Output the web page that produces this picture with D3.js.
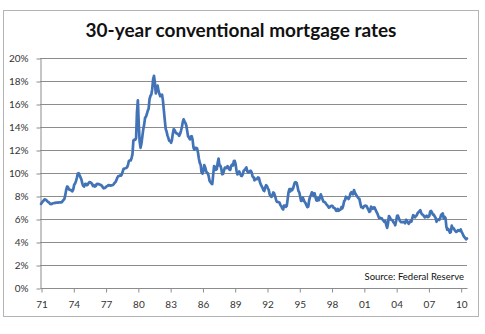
<!DOCTYPE html>
<html>
<head>
<meta charset="utf-8">
<script src="https://cdn.jsdelivr.net/npm/d3@7"></script>
<style>
  html, body { margin: 0; padding: 0; background: #fff; }
  svg { display: block; }
  text { font-family: Lato, "Open Sans", sans-serif; }
</style>
</head>
<body>
<svg id="chart" width="485" height="334"></svg>
<script>
// Monthly average 30-year fixed mortgage rate (%), April 1971 – November 2010
const firstMonth = [1971, 3];   // [year, zero-based month]
const rates1970s = [
  7.31, 7.43, 7.53, 7.60, 7.70, 7.69, 7.63, 7.55, 7.48,
  7.44, 7.33, 7.29, 7.31, 7.37, 7.37, 7.40, 7.40, 7.42, 7.42, 7.43, 7.44,
  7.44, 7.44, 7.46, 7.54, 7.65, 7.73, 8.05, 8.50, 8.82, 8.78, 8.58, 8.54,
  8.54, 8.46, 8.41, 8.58, 8.97, 9.09, 9.28, 9.59, 9.96, 9.98, 9.79, 9.62,
  9.43, 9.10, 8.89, 8.82, 9.04, 9.06, 8.94, 8.98, 9.12, 9.21, 9.19, 9.14,
  9.03, 8.86, 8.94, 8.82, 8.86, 9.03, 9.05, 9.04, 9.01, 8.97, 8.95, 8.88,
  8.72, 8.67, 8.69, 8.75, 8.83, 8.86, 8.94, 8.94, 8.90, 8.92, 8.92, 8.96,
  9.02, 9.15, 9.20, 9.36, 9.57, 9.71, 9.74, 9.78, 9.76, 9.86, 10.11, 10.35,
  10.39, 10.41, 10.43, 10.50, 10.69, 11.04, 11.09, 11.09, 11.30, 11.64, 12.83, 12.90
];
const rates1980s = [
  12.88, 13.04, 15.28, 16.32, 14.26, 12.71, 12.19, 12.56, 13.20, 13.79, 14.21, 14.79,
  14.90, 15.13, 15.40, 15.58, 16.40, 16.70, 16.83, 17.29, 18.16, 18.45, 17.83, 16.92,
  17.40, 17.60, 17.16, 16.89, 16.68, 16.70, 16.82, 16.27, 15.43, 14.61, 13.83, 13.62,
  13.25, 13.04, 12.80, 12.78, 12.63, 12.87, 13.42, 13.81, 13.73, 13.54, 13.44, 13.42,
  13.37, 13.23, 13.39, 13.65, 13.94, 14.42, 14.67, 14.47, 14.35, 14.13, 13.64, 13.18,
  13.08, 12.92, 13.17, 13.20, 12.91, 12.22, 12.03, 12.19, 12.19, 12.14, 11.78, 11.26,
  10.88, 10.71, 10.08, 9.94, 10.14, 10.68, 10.51, 10.20, 10.01, 9.98, 9.70, 9.31,
  9.20, 9.08, 9.04, 9.83, 10.60, 10.54, 10.28, 10.33, 10.89, 11.26, 10.65, 10.64,
  10.38, 9.89, 9.93, 10.20, 10.46, 10.46, 10.43, 10.60, 10.48, 10.30, 10.27, 10.61,
  10.73, 10.65, 11.03, 11.05, 10.77, 10.20, 9.88, 9.99, 10.13, 9.95, 9.77, 9.74
];
const rates1990s = [
  9.90, 10.20, 10.27, 10.37, 10.48, 10.16, 10.04, 10.10, 10.18, 10.18, 10.01, 9.67,
  9.64, 9.37, 9.50, 9.49, 9.47, 9.62, 9.58, 9.24, 9.01, 8.86, 8.71, 8.50,
  8.43, 8.76, 8.94, 8.85, 8.67, 8.51, 8.13, 7.98, 7.92, 8.09, 8.31, 8.22,
  7.99, 7.68, 7.50, 7.47, 7.47, 7.42, 7.21, 7.11, 6.92, 6.83, 7.16, 7.17,
  7.06, 7.15, 7.68, 8.32, 8.60, 8.40, 8.61, 8.51, 8.64, 8.93, 9.17, 9.20,
  9.15, 8.83, 8.46, 8.32, 7.96, 7.57, 7.61, 7.86, 7.64, 7.48, 7.38, 7.20,
  7.03, 7.08, 7.62, 7.93, 8.07, 8.32, 8.25, 8.00, 8.23, 7.92, 7.62, 7.60,
  7.82, 7.65, 7.90, 8.14, 7.94, 7.69, 7.50, 7.48, 7.43, 7.29, 7.21, 7.10,
  6.99, 7.04, 7.13, 7.14, 7.14, 7.00, 6.95, 6.92, 6.72, 6.71, 6.87, 6.72,
  6.79, 6.81, 7.04, 6.92, 7.15, 7.55, 7.63, 7.94, 7.82, 7.85, 7.74, 7.91
];
const rates2000s = [
  8.21, 8.33, 8.24, 8.15, 8.52, 8.29, 8.15, 8.03, 7.91, 7.80, 7.75, 7.38,
  7.03, 7.05, 6.95, 7.08, 7.15, 7.16, 7.13, 6.95, 6.82, 6.62, 6.66, 7.07,
  7.00, 6.89, 7.01, 6.99, 6.81, 6.65, 6.49, 6.29, 6.09, 6.11, 6.07, 6.05,
  5.92, 5.84, 5.75, 5.81, 5.48, 5.23, 5.63, 6.26, 6.15, 5.95, 5.93, 5.88,
  5.71, 5.64, 5.45, 5.83, 6.27, 6.29, 6.06, 5.87, 5.75, 5.72, 5.73, 5.75,
  5.71, 5.63, 5.93, 5.86, 5.72, 5.58, 5.70, 5.82, 5.77, 6.07, 6.33, 6.27,
  6.15, 6.25, 6.32, 6.51, 6.60, 6.68, 6.76, 6.52, 6.40, 6.36, 6.24, 6.14,
  6.22, 6.29, 6.16, 6.18, 6.26, 6.66, 6.70, 6.57, 6.38, 6.38, 6.21, 6.10,
  5.76, 5.92, 5.97, 5.92, 6.04, 6.32, 6.43, 6.48, 6.04, 6.20, 6.09, 5.33,
  5.06, 5.13, 5.00, 4.81, 4.86, 5.42, 5.22, 5.19, 5.06, 4.95, 4.88, 4.93,
  5.03, 4.99, 4.97, 5.10, 4.89, 4.74, 4.56, 4.43, 4.35, 4.23, 4.30
];
const tickYears = [1971, 1974, 1977, 1980, 1983, 1986, 1989, 1992, 1995, 1998, 2001, 2004, 2007, 2010];
const yTickValues = [0, 2, 4, 6, 8, 10, 12, 14, 16, 18, 20];
const titleText = "30-year conventional mortgage rates";
const sourceText = "Source: Federal Reserve";

const rates = [].concat(rates1970s, rates1980s, rates1990s, rates2000s);
const series = rates.map((v, i) => ({
  date: new Date(firstMonth[0], firstMonth[1] + i, 1),
  value: v
}));

const svg = d3.select("#chart");
const plot = { left: 40, right: 467, top: 58, bottom: 288 };

// Chart frame
svg.append("rect")
  .attr("x", 3.5).attr("y", 10.5)
  .attr("width", 475).attr("height", 306)
  .attr("fill", "#fff")
  .attr("stroke", "#b4b4b4")
  .attr("stroke-width", 1);

const x = d3.scaleTime()
  .domain([series[0].date, series[series.length - 1].date])
  .range([plot.left + 1, plot.right]);
const y = d3.scaleLinear()
  .domain([0, 20])
  .range([plot.bottom, plot.top]);

// Horizontal gridlines
svg.append("g")
  .selectAll("line")
  .data(yTickValues.filter(d => d > 0))
  .join("line")
  .attr("x1", plot.left).attr("x2", plot.right)
  .attr("y1", d => Math.round(y(d)) + 0.5)
  .attr("y2", d => Math.round(y(d)) + 0.5)
  .attr("stroke", "#8c8c8c")
  .attr("stroke-width", 1);

// Y axis
const yAxis = svg.append("g")
  .attr("transform", `translate(${plot.left + 0.5},0.5)`)
  .call(d3.axisLeft(y)
    .tickValues(yTickValues)
    .tickFormat(d => d + "%")
    .tickSize(4)
    .tickSizeOuter(0)
    .tickPadding(8));

// X axis
const xAxis = svg.append("g")
  .attr("transform", `translate(0.5,${plot.bottom + 0.5})`)
  .call(d3.axisBottom(x)
    .tickValues(tickYears.map(yr => new Date(yr, 3, 1)))
    .tickFormat(d3.timeFormat("%y"))
    .tickSize(4)
    .tickSizeOuter(0)
    .tickPadding(8));

// Stretch the x axis baseline across the full plot width
xAxis.select(".domain").attr("d", `M${plot.left},0H${plot.right}`);

[yAxis, xAxis].forEach(ax => {
  ax.select(".domain").attr("stroke", "#8c8c8c");
  ax.selectAll(".tick line").attr("stroke", "#8c8c8c");
  ax.selectAll(".tick text")
    .attr("fill", "#333")
    .style("font-size", "10px")
    .style("font-family", "Lato, sans-serif");
});

// Rate line
const line = d3.line()
  .x(d => x(d.date))
  .y(d => y(d.value))
  .curve(d3.curveLinear);

svg.append("path")
  .datum(series)
  .attr("d", line)
  .attr("fill", "none")
  .attr("stroke", "#4273b6")
  .attr("stroke-width", 2.7)
  .attr("stroke-linejoin", "round")
  .attr("stroke-linecap", "round");

// Title
svg.append("text")
  .attr("x", 241).attr("y", 37)
  .attr("text-anchor", "middle")
  .style("font-size", "19px")
  .style("font-weight", "bold")
  .attr("fill", "#111")
  .text(titleText);

// Source note
svg.append("text")
  .attr("x", 464).attr("y", 280)
  .attr("text-anchor", "end")
  .style("font-size", "9.5px")
  .attr("fill", "#111")
  .text(sourceText);
</script>
</body>
</html>
